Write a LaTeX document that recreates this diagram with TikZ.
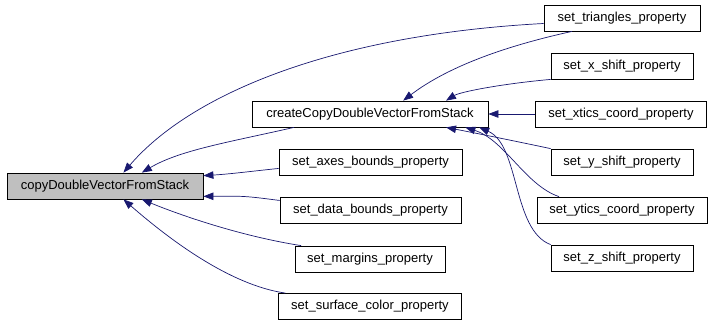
\documentclass[tikz,border=0pt]{standalone}
\usepackage{fontspec}
\setmainfont{Liberation Sans}
\usepackage{tikz}
\usetikzlibrary{arrows.meta}
\definecolor{edgeblue}{HTML}{191970}
\definecolor{focusgray}{HTML}{BFBFBF}

\begin{document}
\begin{tikzpicture}[x=1pt,y=-1pt,every node/.style={font=\fontsize{13}{15}\selectfont,align=center},fn/.style={draw=black,line width=0.8pt,inner sep=0pt,minimum height=26pt},focus/.style={fn,fill=focusgray},call/.style={-{Triangle[length=10pt,width=7.5pt]},edgeblue,line width=0.7pt}]
\useasboundingbox (0,0) rectangle (711,322);
\node[focus,minimum width=196pt] (copy) at (105,186) {copyDoubleVectorFromStack};
\node[fn,minimum width=236pt] (create) at (370,114) {createCopyDoubleVectorFromStack};
\node[fn,minimum width=156pt] (tri) at (622,18) {set\_triangles\_property}; \node[fn,minimum width=142pt] (xs) at (622,66) {set\_x\_shift\_property};
\node[fn,minimum width=171pt] (xt) at (621,114) {set\_xtics\_coord\_property}; \node[fn,minimum width=142pt] (ys) at (622,162) {set\_y\_shift\_property};
\node[fn,minimum width=170pt] (yt) at (622,210) {set\_ytics\_coord\_property}; \node[fn,minimum width=142pt] (zs) at (622,258) {set\_z\_shift\_property};
\node[fn,minimum width=183pt] (ax) at (370.5,162) {set\_axes\_bounds\_property}; \node[fn,minimum width=181pt] (da) at (370.5,210) {set\_data\_bounds\_property};
\node[fn,minimum width=150pt] (ma) at (370,259) {set\_margins\_property}; \node[fn,minimum width=183pt] (su) at (370,306.5) {set\_surface\_color\_property};
% calls into copyDoubleVectorFromStack
\draw[call] (tri.184) .. controls (330,35) and (190,95) .. (copy.36);
\draw[call] (create.190) .. controls (230,142) and (180,150) .. (copy.20);
\draw[call] (ax.184) .. controls (245,172) and (230,174) .. (copy.6);
\draw[call] (da.174) .. controls (245,196) .. (copy.-6);
\draw[call] (ma.169.5) .. controls (240,236) and (180,215) .. (copy.-20);
\draw[call] (su.171) .. controls (230,285) and (170,240) .. (copy.-36);
% calls into createCopyDoubleVectorFromStack
\draw[call] (tri.195) .. controls (510,45) and (450,65) .. (create.22);
\draw[call] (xs.south west) .. controls (500,84) and (460,92) .. (create.10);
\draw[call] (xt.west) -- (create.east);
\draw[call] (ys.north west) .. controls (510,140) and (470,132) .. (create.-10);
\draw[call] (yt.168) .. controls (525,185) and (505,140) .. (create.-8);
\draw[call] (zs.north west) .. controls (512,230) and (520,145) .. (create.-7);
\end{tikzpicture}
\end{document}
